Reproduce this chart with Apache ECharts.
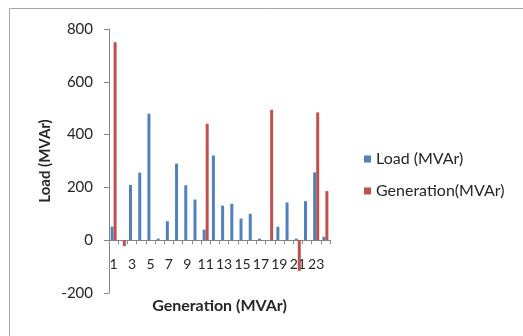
<!DOCTYPE html>
<html>
<head>
<meta charset="utf-8">
<script src="https://cdn.jsdelivr.net/npm/echarts@6/dist/echarts.min.js"></script>
<style>
  html, body { margin: 0; padding: 0; background: #fff; }
  #chart { width: 523px; height: 336px; }
</style>
</head>
<body>
<div id="chart"></div>
<script>
// Bus numbers 1..24
const buses = ['1','2','3','4','5','6','7','8','9','10','11','12','13','14','15','16','17','18','19','20','21','22','23','24'];
// Reactive load per bus (MVAr)
const loadMVAr = [51, 0, 209, 256, 479, 6, 72, 290, 208, 154, 40, 321, 131, 138, 82, 100, 6, 0, 51, 143, 6, 148, 257, 13];
// Reactive generation per bus (MVAr)
const genMVAr = [750, -22, 0, 0, 0, 0, 0, 0, 0, 0, 441, 0, 0, 0, 0, 0, 0, 494, 0, 0, -116, 0, 484, 186];
const yTicks = { min: -200, max: 800, step: 200 };

const FONT = 'Lato, "Liberation Sans", sans-serif';
const GRID = { left: 109, right: 193, top: 29, bottom: 43 };
const plotHeight = 336 - GRID.top - GRID.bottom;
// lift the category axis from the grid bottom up to the value 0
const zeroLift = plotHeight * (0 - yTicks.min) / (yTicks.max - yTicks.min);

const chart = echarts.init(document.getElementById('chart'), null, { renderer: 'canvas' });

chart.setOption({
  animation: false,
  backgroundColor: '#ffffff',
  textStyle: { fontFamily: FONT },
  graphic: [{
    type: 'rect',
    shape: { x: 9.5, y: 8.5, width: 700, height: 500 },
    style: { fill: 'none', stroke: '#a6a6a6', lineWidth: 1 },
    silent: true,
    z: -1
  }],
  grid: Object.assign({ containLabel: false, outerBoundsMode: 'none' }, GRID),
  legend: {
    orient: 'vertical',
    left: 359,
    top: 146,
    itemWidth: 7,
    itemHeight: 7,
    itemGap: 16,
    icon: 'rect',
    textStyle: { fontFamily: FONT, fontSize: 16, color: '#262626' },
    data: ['Load (MVAr)', 'Generation(MVAr)']
  },
  xAxis: {
    type: 'category',
    data: buses,
    boundaryGap: true,
    position: 'bottom',
    offset: -zeroLift,
    name: 'Generation (MVAr)',
    nameLocation: 'middle',
    nameGap: 58,
    nameTextStyle: { fontFamily: FONT, fontWeight: 'bold', fontSize: 16, color: '#262626' },
    axisLine: { onZero: false, lineStyle: { color: '#868686', width: 1 } },
    axisTick: { show: true, interval: 0, length: 4, inside: false, lineStyle: { color: '#868686' } },
    axisLabel: { interval: 1, margin: 17, fontFamily: FONT, fontSize: 14, color: '#262626' }
  },
  yAxis: {
    type: 'value',
    min: yTicks.min,
    max: yTicks.max,
    interval: yTicks.step,
    name: 'Load (MVAr)',
    nameLocation: 'middle',
    nameGap: 56,
    nameRotate: 90,
    nameTextStyle: { fontFamily: FONT, fontWeight: 'bold', fontSize: 15, color: '#262626' },
    splitLine: { show: false },
    axisLine: { show: true, lineStyle: { color: '#868686', width: 1 } },
    axisTick: { show: true, length: 5, lineStyle: { color: '#868686' } },
    axisLabel: { margin: 16, fontFamily: FONT, fontSize: 15, color: '#262626' }
  },
  series: [
    {
      name: 'Load (MVAr)',
      type: 'bar',
      data: loadMVAr,
      barWidth: 3,
      barGap: '0%',
      itemStyle: { color: '#4f81bd' }
    },
    {
      name: 'Generation(MVAr)',
      type: 'bar',
      data: genMVAr,
      barWidth: 3,
      barGap: '0%',
      itemStyle: { color: '#c0504d' }
    }
  ]
});
</script>
</body>
</html>
